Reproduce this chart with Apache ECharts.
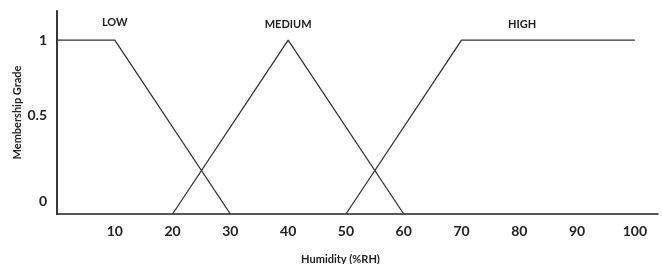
<!DOCTYPE html>
<html>
<head>
<meta charset="utf-8">
<script src="https://cdn.jsdelivr.net/npm/echarts@6/dist/echarts.min.js"></script>
<style>
  html, body { margin: 0; padding: 0; background: #fff; }
  #chart { width: 662px; height: 264px; }
</style>
</head>
<body>
<div id="chart"></div>
<script>
// membership functions, [humidity, grade]
const lowPoints = [[0, 1], [10, 1], [30, 0]]
const mediumPoints = [[20, 0], [40, 1], [60, 0]]
const highPoints = [[50, 0], [70, 1], [100, 1]]

const setNames = ['LOW', 'MEDIUM', 'HIGH']
// where each set name sits, in data units
const nameCoords = [[10, 1.1], [40, 1.09], [80.5, 1.09]]

const xTicks = [10, 20, 30, 40, 50, 60, 70, 80, 90, 100]
const yTicks = [0, 0.5, 1]

const font = 'Lato, "Open Sans", sans-serif'
const ink = '#222'

const chart = echarts.init(document.getElementById('chart'))

const makeSeries = (name, points, idx) => ({
  name,
  type: 'line',
  data: points,
  symbol: 'none',
  lineStyle: { color: '#333', width: 1.3 },
  z: 3,
  markPoint: {
    symbol: 'circle',
    symbolSize: 0,
    data: [{ coord: nameCoords[idx], value: name }],
    label: {
      show: true,
      formatter: name,
      color: ink,
      fontFamily: font,
      fontWeight: 'bold',
      fontSize: 11,
    },
  },
})

chart.setOption({
  animation: false,
  grid: { left: 57, right: 4, top: 11, bottom: 50, outerBoundsMode: 'none' },
  xAxis: {
    type: 'value',
    min: 0,
    max: 104,
    interval: 10,
    name: 'Humidity (%RH)',
    nameLocation: 'middle',
    nameGap: 40,
    nameTextStyle: { color: ink, fontFamily: font, fontWeight: 'bold', fontSize: 11, padding: [0, 34, 0, 0] },
    axisLine: { lineStyle: { color: ink, width: 1.5 } },
    axisTick: { show: false },
    splitLine: { show: false },
    axisLabel: {
      margin: 10,
      color: ink,
      fontFamily: font,
      fontWeight: 'bold',
      fontSize: 14,
      formatter: (v) => (xTicks.includes(v) ? String(v) : ''),
    },
  },
  yAxis: {
    type: 'value',
    min: 0,
    max: 1.167,
    interval: 0.5,
    name: 'Membership Grade',
    nameLocation: 'middle',
    nameRotate: 90,
    nameGap: 34,
    nameMoveOverlap: false,
    nameTextStyle: { color: ink, fontFamily: font, fontWeight: 'bold', fontSize: 11 },
    axisLine: { show: true, lineStyle: { color: ink, width: 1.8 } },
    axisTick: { show: false },
    splitLine: { show: false },
    axisLabel: {
      margin: 10,
      color: ink,
      fontFamily: font,
      fontWeight: 'bold',
      fontSize: 14,
      formatter: (v) => {
        if (!yTicks.includes(v)) return ''
        if (v === 0) return '{z|0}'
        if (v === 0.5) return '{h|0.5}'
        return String(v)
      },
      rich: {
        z: { fontFamily: font, fontWeight: 'bold', fontSize: 14, color: ink, padding: [0, 0, 26, 0] },
        h: { fontFamily: font, fontWeight: 'bold', fontSize: 14, color: ink, padding: [0, 0, 24, 0] },
      },
    },
  },
  series: [
    makeSeries(setNames[0], lowPoints, 0),
    makeSeries(setNames[1], mediumPoints, 1),
    makeSeries(setNames[2], highPoints, 2),
  ],
})
</script>
</body>
</html>
